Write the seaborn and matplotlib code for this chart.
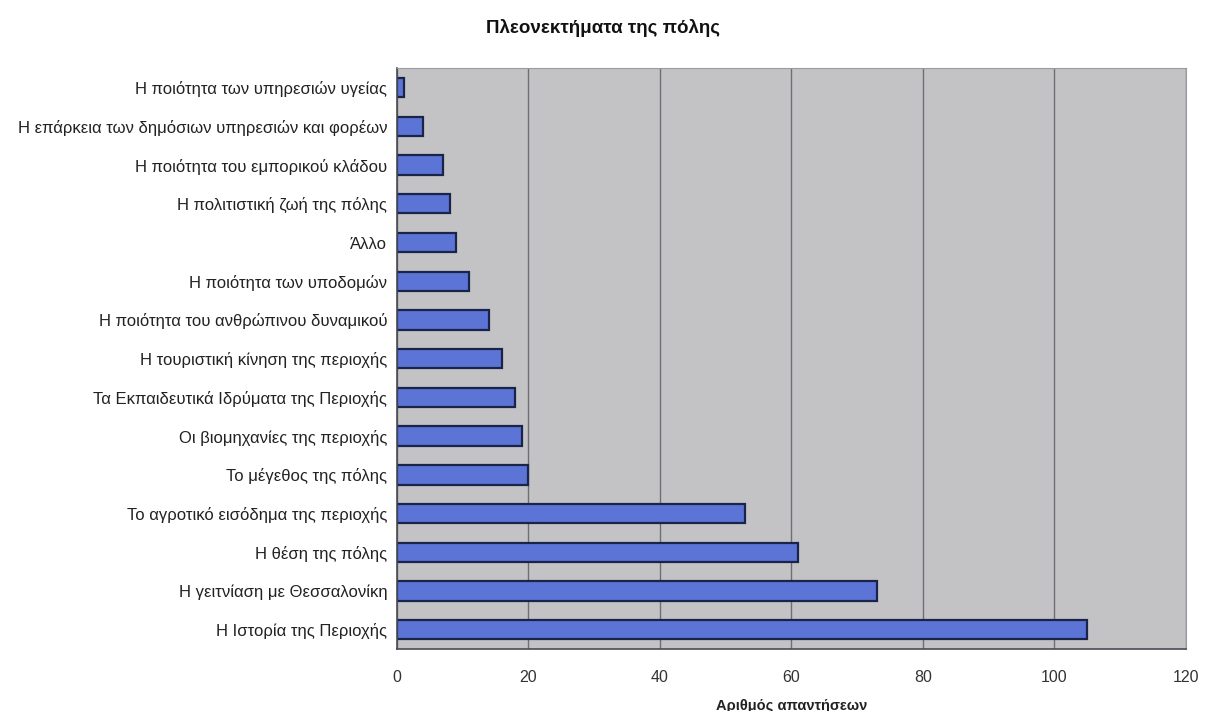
import matplotlib
matplotlib.use("Agg")
import matplotlib.pyplot as plt
import seaborn as sns
import numpy as np
import pandas as pd

# Categories top to bottom as in the chart
categories = [
    "Η ποιότητα των υπηρεσιών υγείας",
    "Η επάρκεια των δημόσιων υπηρεσιών και φορέων",
    "Η ποιότητα του εμπορικού κλάδου",
    "Η πολιτιστική ζωή της πόλης",
    "Άλλο",
    "Η ποιότητα των υποδομών",
    "Η ποιότητα του ανθρώπινου δυναμικού",
    "Η τουριστική κίνηση της περιοχής",
    "Τα Εκπαιδευτικά Ιδρύματα της Περιοχής",
    "Οι βιομηχανίες της περιοχής",
    "Το μέγεθος της πόλης",
    "Το αγροτικό εισόδημα της περιοχής",
    "Η θέση της πόλης",
    "Η γειτνίαση με Θεσσαλονίκη",
    "Η Ιστορία της Περιοχής",
]
responses = [1, 4, 7, 8, 9, 11, 14, 16, 18, 19, 20, 53, 61, 73, 105]
x_ticks = [0, 20, 40, 60, 80, 100, 120]

df = pd.DataFrame({"category": categories, "responses": responses})

sns.set_theme(style="white")
plt.rcParams["font.family"] = ["Liberation Sans", "DejaVu Sans"]

fig = plt.figure(figsize=(12.05, 7.11), dpi=100)
ax = fig.add_axes([0.3295, 0.087, 0.6545, 0.817])
ax.set_facecolor("#c3c3c5")

sns.barplot(data=df, x="responses", y="category", orient="h", ax=ax,
            color="#5b74d6", width=0.5, edgecolor="#1a2448", linewidth=1.6,
            saturation=1)

ax.set_xlim(0, 120)
ax.set_xticks(x_ticks)
ax.set_xticklabels([str(t) for t in x_ticks], fontsize=11.5, color="#333333")
ax.tick_params(axis="y", labelsize=12, labelcolor="#222222", length=0, pad=7)
ax.tick_params(axis="x", length=0, pad=15)
ax.set_yticks(np.arange(-0.5, len(categories), 1), minor=True)
ax.tick_params(axis="y", which="minor", length=4, color="#555555", direction="out")
ax.xaxis.grid(True, color="#6d6f75", linewidth=1)
ax.yaxis.grid(False)
ax.set_axisbelow(True)
for side in ["left", "bottom"]:
    ax.spines[side].set_color("#4a4a55")
    ax.spines[side].set_linewidth(1.2)
for side in ["top", "right"]:
    ax.spines[side].set_color("#9a9aa0")
    ax.spines[side].set_linewidth(0.8)

ax.set_ylabel("")
ax.set_xlabel("Αριθμός απαντήσεων", fontsize=10.5, fontweight="bold",
              color="#222222", labelpad=10)
fig.text(0.5, 0.96, "Πλεονεκτήματα της πόλης", ha="center", va="center",
         fontsize=13.5, fontweight="bold", color="#111111")

fig.savefig("out.png", dpi=100, facecolor="white")
